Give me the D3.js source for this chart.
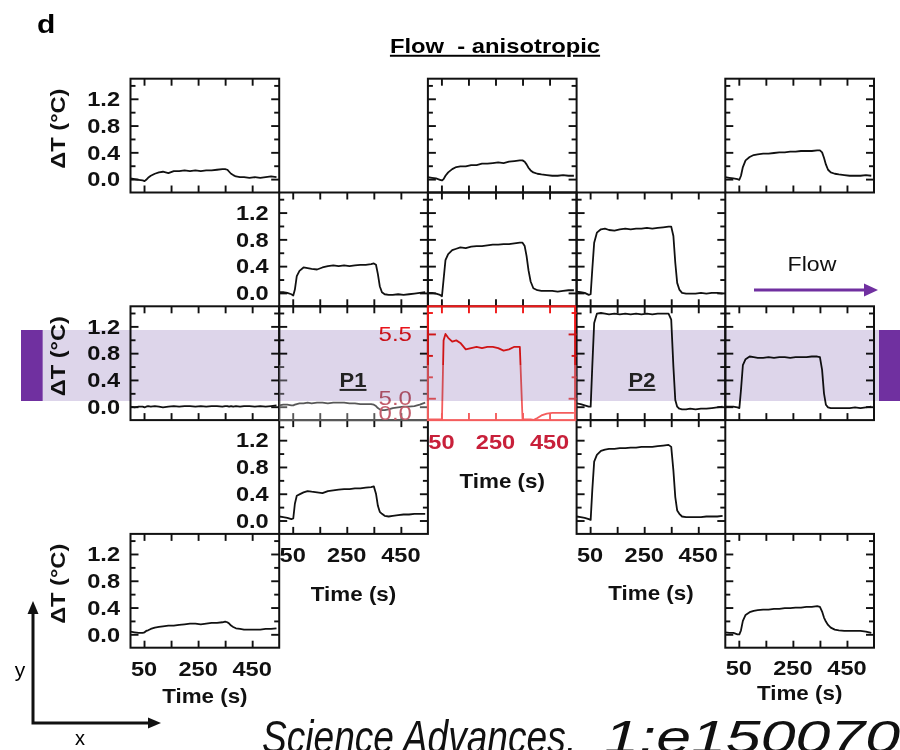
<!DOCTYPE html>
<meta charset="utf-8">
<style>
body { margin: 0; background: #fff; }
svg { display: block; font-family: "Liberation Sans", Arial, sans-serif; }
.frame { fill: none; stroke: #111; stroke-width: 2; }
.trace { fill: none; stroke: #111; stroke-width: 1.8; stroke-linejoin: round; }
.tl { font-size: 20px; font-weight: bold; fill: #111; }
.tt { font-size: 20px; font-weight: bold; fill: #111; }
.yt { font-size: 20px; font-weight: bold; fill: #111; }
.heat { font-size: 20px; fill: #e8141c; }
.heatlow { font-size: 20px; fill: #a8182c; }
.heatx { font-size: 20px; font-weight: bold; fill: #c8203a; }
.title { font-size: 19.5px; font-weight: bold; text-decoration: underline; white-space: pre; }
.probe { font-size: 20px; font-weight: bold; fill: #222; text-decoration: underline; }
.src { font-size: 46px; font-style: italic; fill: #111; }
</style>
<body>
<svg width="900" height="750"></svg>
</body>

<script src="https://cdn.jsdelivr.net/npm/d3@7"></script>
<script>

// sample times (s), shared by every trace
var time = [0, 15, 30, 45, 52, 58, 65, 75, 90, 105, 120, 140, 160, 180, 200, 220, 240, 260, 280, 300,
            320, 340, 350, 358, 365, 372, 380, 390, 405, 420, 440, 460, 480, 500, 520, 540];

// temperature rise (°C) at each probe, named by grid row / column
var row0col0 = [0.01, 0.0, -0.01, -0.02, -0.03, -0.01, 0.02, 0.05, 0.08, 0.10, 0.11, 0.09, 0.12, 0.12, 0.13, 0.12, 0.13, 0.12, 0.13, 0.13,
                0.14, 0.15, 0.15, 0.14, 0.11, 0.08, 0.06, 0.04, 0.03, 0.03, 0.02, 0.03, 0.02, 0.03, 0.04, 0.03];
var row0col2 = [0.03, 0.02, 0.01, -0.01, -0.02, 0.0, 0.05, 0.10, 0.15, 0.18, 0.19, 0.19, 0.21, 0.21, 0.23, 0.23, 0.24, 0.25, 0.24, 0.26,
                0.27, 0.28, 0.28, 0.26, 0.22, 0.17, 0.13, 0.10, 0.08, 0.07, 0.06, 0.05, 0.05, 0.06, 0.05, 0.05];
var row0col4 = [0.03, 0.02, 0.01, 0.0, -0.01, 0.05, 0.18, 0.28, 0.33, 0.36, 0.37, 0.38, 0.38, 0.39, 0.40, 0.40, 0.41, 0.41, 0.42, 0.42,
                0.42, 0.43, 0.43, 0.40, 0.32, 0.22, 0.14, 0.10, 0.08, 0.07, 0.06, 0.05, 0.05, 0.05, 0.06, 0.05];
var row1col1 = [0.01, 0.01, 0.0, -0.02, -0.04, 0.05, 0.25, 0.33, 0.38, 0.37, 0.36, 0.35, 0.38, 0.40, 0.41, 0.40, 0.41, 0.40, 0.41, 0.42,
                0.42, 0.43, 0.44, 0.42, 0.28, 0.10, 0.01, -0.02, -0.03, -0.03, -0.02, -0.03, -0.02, -0.01, 0.0, 0.01];
var row1col2 = [0.0, 0.0, -0.01, -0.03, -0.05, 0.20, 0.49, 0.58, 0.64, 0.66, 0.68, 0.67, 0.69, 0.70, 0.70, 0.71, 0.72, 0.72, 0.73, 0.73,
                0.74, 0.75, 0.75, 0.70, 0.55, 0.34, 0.17, 0.07, 0.04, 0.03, 0.03, 0.03, 0.02, 0.03, 0.04, 0.04];
var row1col3 = [0.02, 0.01, 0.0, -0.03, -0.02, 0.35, 0.75, 0.90, 0.95, 0.96, 0.94, 0.93, 0.95, 0.96, 0.95, 0.96, 0.96, 0.97, 0.96, 0.97,
                0.98, 0.99, 0.99, 0.85, 0.45, 0.15, 0.05, 0.0, -0.01, -0.01, -0.01, 0.0, -0.01, 0.0, 0.0, -0.01];
var row2col0 = [0.0, -0.01, 0.0, 0.0, -0.01, 0.0, 0.01, 0.0, 0.01, 0.0, -0.01, 0.0, 0.01, 0.0, 0.01, 0.01, 0.0, 0.01, 0.0, 0.01,
                0.01, 0.0, 0.01, 0.01, 0.0, 0.01, 0.0, 0.01, 0.0, 0.01, 0.01, 0.0, 0.01, 0.0, 0.01, 0.02];
var row2col1 = [0.02, 0.03, 0.03, 0.02, 0.02, 0.03, 0.04, 0.05, 0.05, 0.06, 0.05, 0.06, 0.06, 0.05, 0.06, 0.06, 0.06, 0.05, 0.05, 0.04,
                0.04, 0.04, 0.03, 0.01, -0.02, -0.04, -0.05, -0.05, -0.04, -0.02, -0.01, 0.0, 0.0, 0.01, 0.03, 0.06];
var row2col3 = [0.05, 0.04, 0.02, 0.0, 0.0, 0.60, 1.25, 1.39, 1.40, 1.39, 1.38, 1.39, 1.38, 1.39, 1.38, 1.39, 1.38, 1.39, 1.38, 1.39,
                1.39, 1.39, 1.30, 0.60, 0.10, 0.0, -0.03, -0.04, -0.04, -0.03, -0.04, -0.03, -0.03, -0.02, -0.01, 0.0];
var row2col4 = [0.0, 0.0, 0.0, -0.01, -0.02, 0.25, 0.62, 0.71, 0.75, 0.74, 0.73, 0.73, 0.74, 0.73, 0.74, 0.74, 0.73, 0.74, 0.74, 0.74,
                0.75, 0.75, 0.74, 0.55, 0.20, 0.03, -0.01, -0.02, -0.02, -0.02, -0.02, -0.02, -0.01, -0.02, -0.01, 0.0];
var row3col1 = [0.06, 0.05, 0.04, 0.02, 0.03, 0.25, 0.37, 0.39, 0.42, 0.44, 0.43, 0.42, 0.41, 0.44, 0.45, 0.46, 0.47, 0.47, 0.48, 0.48,
                0.49, 0.50, 0.51, 0.40, 0.22, 0.13, 0.10, 0.07, 0.06, 0.07, 0.08, 0.09, 0.09, 0.10, 0.10, 0.10];
var row3col3 = [0.06, 0.05, 0.04, 0.02, 0.01, 0.45, 0.88, 0.98, 1.04, 1.06, 1.07, 1.07, 1.08, 1.08, 1.09, 1.09, 1.10, 1.10, 1.10, 1.11,
                1.12, 1.13, 1.10, 0.75, 0.35, 0.15, 0.10, 0.06, 0.05, 0.05, 0.05, 0.05, 0.06, 0.06, 0.06, 0.07];
var row4col0 = [0.04, 0.03, 0.02, 0.02, 0.03, 0.05, 0.06, 0.08, 0.10, 0.11, 0.12, 0.13, 0.13, 0.14, 0.15, 0.16, 0.16, 0.15, 0.16, 0.17,
                0.17, 0.18, 0.19, 0.18, 0.16, 0.13, 0.11, 0.09, 0.08, 0.07, 0.07, 0.07, 0.07, 0.08, 0.08, 0.09];
var row4col4 = [0.03, 0.02, 0.02, 0.0, 0.0, 0.06, 0.20, 0.29, 0.33, 0.35, 0.36, 0.37, 0.37, 0.38, 0.38, 0.39, 0.39, 0.40, 0.40, 0.41,
                0.41, 0.42, 0.41, 0.34, 0.25, 0.19, 0.14, 0.10, 0.07, 0.06, 0.05, 0.05, 0.05, 0.05, 0.04, 0.02];

// heater (centre) trace: values near 5.4 sit on the upper axis, values near 0 on the lower one
var heater = [-0.05, -0.05, -0.05, -0.05, -0.05, 5.45, 5.50, 5.47, 5.44, 5.45, 5.43, 5.38, 5.39, 5.40, 5.39, 5.40, 5.40, 5.39, 5.37, 5.38,
              5.40, 5.40, -0.05, -0.05, -0.05, -0.05, -0.05, -0.055, -0.04, -0.02, -0.005, 0.0, 0.0, 0.0, 0.0, 0.0];

var yMajor = [0, 0.4, 0.8, 1.2],
    yMinor = [0.2, 0.6, 1.0, 1.4],
    xTicks = [50, 150, 250, 350, 450],
    xLabels = [50, 250, 450],
    heatMajor = [5.0, 5.5],
    heatMinor = [5.1667, 5.3333, 5.6667],
    heatBreak = 4.886;

var svg = d3.select("svg");

var colX = [130.5, 279.2, 427.9, 576.6, 725.3],
    rowY = [78.7, 192.5, 306.3, 420.1, 533.9],
    pw = 148.7,
    ph = 113.8;

var x = d3.scaleLinear().domain([0, 550]).range([0, pw]);
var y = d3.scaleLinear().domain([-0.2, 1.5]).range([ph, 0]);
var yHeat = d3.scaleLinear().domain([4.83, 5.715]).range([ph, 0]);
function yHeatBroken(v) { return v < 2 ? yHeat(v + heatBreak) : yHeat(v); }

svg.append("clipPath").attr("id", "cell")
  .append("rect").attr("width", pw).attr("height", ph);

// stretched text, the figure's lettering is wider than the plain font
function stext(sel, tx, ty, str, sx, cls) {
  return sel.append("text")
      .attr("class", cls)
      .attr("transform", "translate(" + tx + "," + ty + ") scale(" + sx + ",1)")
      .text(str);
}

// inward ticks on all four sides
function drawTicks(g, ys, major, minor, color) {
  var axes = [
    [d3.axisLeft(ys).tickValues(major).tickSize(-8), 0, 0],
    [d3.axisLeft(ys).tickValues(minor).tickSize(-5), 0, 0],
    [d3.axisRight(ys).tickValues(major).tickSize(-8), pw, 0],
    [d3.axisRight(ys).tickValues(minor).tickSize(-5), pw, 0],
    [d3.axisTop(x).tickValues(xTicks).tickSize(-7), 0, 0],
    [d3.axisBottom(x).tickValues(xTicks).tickSize(-7), 0, ph]
  ];
  axes.forEach(function(a) {
    g.append("g")
        .attr("transform", "translate(" + a[1] + "," + a[2] + ")")
        .call(a[0].tickFormat("").tickSizeOuter(0))
        .call(function(s) { s.select(".domain").remove(); })
      .selectAll("line")
        .attr("stroke", color)
        .attr("stroke-width", 1.9);
  });
}

var panels = [
  {row: 0, col: 0, data: row0col0, yLab: true, yTitle: true},
  {row: 0, col: 2, data: row0col2},
  {row: 0, col: 4, data: row0col4},
  {row: 1, col: 1, data: row1col1, yLab: true},
  {row: 1, col: 2, data: row1col2},
  {row: 1, col: 3, data: row1col3},
  {row: 2, col: 0, data: row2col0, yLab: true, yTitle: true},
  {row: 2, col: 1, data: row2col1},
  {row: 2, col: 3, data: row2col3},
  {row: 2, col: 4, data: row2col4},
  {row: 3, col: 1, data: row3col1, yLab: true, xOff: [28, 67]},
  {row: 3, col: 3, data: row3col3, xOff: [28, 66]},
  {row: 4, col: 0, data: row4col0, yLab: true, yTitle: true, xOff: [28, 55]},
  {row: 4, col: 4, data: row4col4, xOff: [27, 52]}
];

var line = d3.line()
    .x(function(d, i) { return x(time[i]); })
    .y(function(d) { return y(d); });

panels.forEach(function(p) {
  var g = svg.append("g")
      .attr("transform", "translate(" + colX[p.col] + "," + rowY[p.row] + ")");

  drawTicks(g, y, yMajor, yMinor, "#111");

  g.append("path")
      .datum(p.data)
      .attr("class", "trace")
      .attr("clip-path", "url(#cell)")
      .attr("d", line);

  g.append("rect").attr("class", "frame").attr("width", pw).attr("height", ph);

  if (p.yLab) {
    yMajor.forEach(function(v) {
      stext(g, -10.5, y(v), v.toFixed(1), 1.18, "tl")
          .attr("text-anchor", "end").attr("dy", "0.36em");
    });
  }
  if (p.yTitle) {
    svg.append("text")
        .attr("class", "yt")
        .attr("text-anchor", "middle")
        .attr("transform", "translate(65," + (rowY[p.row] + ph / 2 - 7) + ") rotate(-90) scale(1.18,1)")
        .text("ΔT (°C)");
  }
  if (p.xOff) {
    xLabels.forEach(function(v) {
      stext(g, x(v), ph + p.xOff[0], v, 1.18, "tl").attr("text-anchor", "middle");
    });
    stext(g, pw / 2, ph + p.xOff[1], "Time (s)", 1.12, "tt").attr("text-anchor", "middle");
  }
});

// heater panel in the centre, red and with its own broken axis
var hg = svg.append("g")
    .attr("transform", "translate(" + colX[2] + "," + rowY[2] + ")");

drawTicks(hg, yHeat, heatMajor, heatMinor, "#f01818");

hg.append("path")
    .datum(heater)
    .attr("clip-path", "url(#cell)")
    .attr("fill", "none")
    .attr("stroke", "#f01818")
    .attr("stroke-width", 1.8)
    .attr("stroke-linejoin", "round")
    .attr("d", d3.line()
        .x(function(d, i) { return x(time[i]); })
        .y(function(d) { return yHeatBroken(d); }));

hg.append("rect")
    .attr("width", pw - 1.5).attr("height", ph)
    .attr("fill", "none").attr("stroke", "#f01818").attr("stroke-width", 2);

stext(hg, -16, yHeat(5.5), "5.5", 1.2, "heat")
    .attr("text-anchor", "end").attr("dy", "0.35em");
xLabels.forEach(function(v) {
  stext(hg, x(v), ph + 28.5, v, 1.18, "heatx").attr("text-anchor", "middle");
});
stext(hg, pw / 2, ph + 68, "Time (s)", 1.12, "tt").attr("text-anchor", "middle");

// faded strip and highlighted row
svg.append("rect")
    .attr("x", colX[1]).attr("y", 365)
    .attr("width", colX[3] - colX[1]).attr("height", rowY[3] + 1 - 365)
    .attr("fill", "#fff").attr("opacity", 0.3);

// lower heater labels sit over the faded strip
stext(hg, -16, yHeat(5.0), "5.0", 1.2, "heatlow")
    .attr("text-anchor", "end").attr("dy", "0.35em");
stext(hg, -16, yHeatBroken(0), "0.0", 1.2, "heatlow")
    .attr("text-anchor", "end").attr("dy", "0.35em");

svg.append("rect")
    .attr("x", 42.7).attr("y", 330)
    .attr("width", 879 - 42.7).attr("height", 71)
    .attr("fill", "#ddd5ea")
    .style("mix-blend-mode", "multiply");

svg.append("rect").attr("x", 21).attr("y", 330).attr("width", 21.7).attr("height", 71).attr("fill", "#7030a0");
svg.append("rect").attr("x", 879).attr("y", 330).attr("width", 21).attr("height", 71).attr("fill", "#7030a0");

stext(svg, colX[1] + pw / 2 - 0.5, 387, "P1", 1.1, "probe").attr("text-anchor", "middle");
stext(svg, colX[3] + pw / 2 - 9, 387, "P2", 1.1, "probe").attr("text-anchor", "middle");

// flow direction
stext(svg, 812, 271, "Flow", 1.1, "flow")
    .attr("text-anchor", "middle")
    .attr("font-size", "21px")
    .attr("fill", "#111");
svg.append("line")
    .attr("x1", 754).attr("y1", 290).attr("x2", 866).attr("y2", 290)
    .attr("stroke", "#7030a0").attr("stroke-width", 3.2);
svg.append("path")
    .attr("d", "M878,290 L864,283.5 L864,296.5 Z")
    .attr("fill", "#7030a0");

// title and panel letter
stext(svg, 495, 53, "Flow  - anisotropic", 1.22, "title").attr("text-anchor", "middle");
stext(svg, 37, 33, "d", 1.2, "d")
    .attr("font-size", "25px").attr("font-weight", "bold");

// x / y orientation key
svg.append("path")
    .attr("d", "M33,612 L33,723 L150,723")
    .attr("fill", "none").attr("stroke", "#111").attr("stroke-width", 3);
svg.append("path").attr("d", "M33,601 L27.5,614 L38.5,614 Z").attr("fill", "#111");
svg.append("path").attr("d", "M161,723 L148,717.5 L148,728.5 Z").attr("fill", "#111");
svg.append("text").attr("x", 20).attr("y", 677).attr("text-anchor", "middle")
    .attr("font-size", "21px").text("y");
svg.append("text").attr("x", 80).attr("y", 745).attr("text-anchor", "middle")
    .attr("font-size", "20px").text("x");

// source line along the bottom edge, running off the page
var src = svg.append("text")
    .attr("class", "src")
    .attr("y", 753);
src.append("tspan")
    .attr("x", 262)
    .attr("textLength", 314).attr("lengthAdjust", "spacingAndGlyphs")
    .text("Science Advances,");
src.append("tspan")
    .attr("x", 604)
    .attr("textLength", 296).attr("lengthAdjust", "spacingAndGlyphs")
    .text("1:e150070");

</script>
